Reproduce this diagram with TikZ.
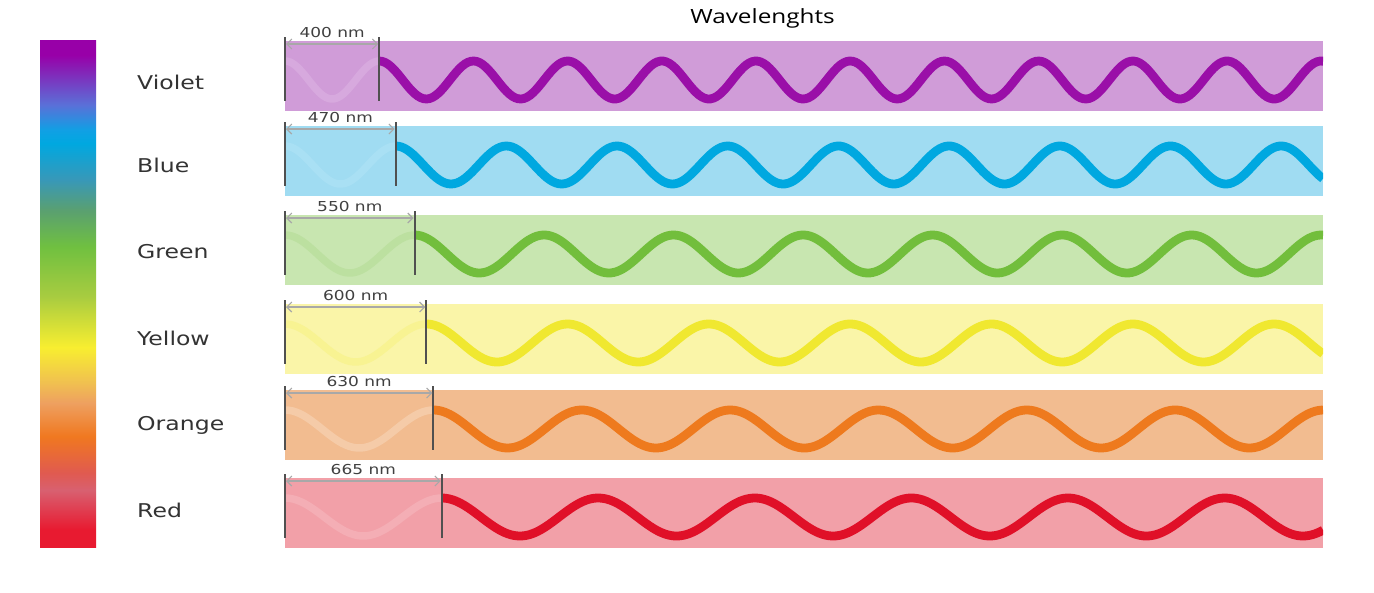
\documentclass[tikz,border=0pt]{standalone}
\usepackage{fontspec}
\setmainfont{DejaVu Sans}[FakeStretch=1.24]
\newfontfamily\titlefont{Open Sans}[FakeStretch=1.24]
\usetikzlibrary{arrows.meta}
% band / wave colours
\definecolor{vioB}{HTML}{D09CD8}\definecolor{vioW}{HTML}{9A0FA8}
\definecolor{bluB}{HTML}{A0DCF2}\definecolor{bluW}{HTML}{00A8E0}
\definecolor{greB}{HTML}{C8E6B0}\definecolor{greW}{HTML}{72BE3C}
\definecolor{yelB}{HTML}{FAF5A8}\definecolor{yelW}{HTML}{F0E830}
\definecolor{oraB}{HTML}{F2BC90}\definecolor{oraW}{HTML}{EE7A1E}
\definecolor{redB}{HTML}{F2A0A8}\definecolor{redW}{HTML}{E01028}
\colorlet{vioF}{vioW!6!vioB!80!white}
\colorlet{bluF}{bluW!8!bluB!80!white}
\colorlet{greF}{greW!14!greB}
\colorlet{yelF}{yelW!18!yelB}
\colorlet{oraF}{oraW!4!oraB!75!white}
\colorlet{redF}{redW!6!redB!78!white}
\definecolor{labgray}{HTML}{333333}
\definecolor{nmgray}{HTML}{404040}
\definecolor{markgray}{HTML}{505050}
\definecolor{dimgray}{HTML}{A8A8A8}
% spectrum colours
\definecolor{sA}{HTML}{9800A8}
\definecolor{sB}{HTML}{5A70D8}
\definecolor{sC}{HTML}{10A0E4}
\definecolor{sD}{HTML}{00A8E0}
\definecolor{sE}{HTML}{3898B8}
\definecolor{sF}{HTML}{5AA070}
\definecolor{sG}{HTML}{70C040}
\definecolor{sH}{HTML}{A8CC40}
\definecolor{sI}{HTML}{F8EE30}
\definecolor{sJ}{HTML}{F0C050}
\definecolor{sK}{HTML}{EEA060}
\definecolor{sL}{HTML}{F07820}
\definecolor{sM}{HTML}{E05A50}
\definecolor{sN}{HTML}{D86070}
\definecolor{sO}{HTML}{E81A30}
\pgfdeclareverticalshading{spectrum}{100bp}{%
color(0bp)=(sO); color(25bp)=(sO); color(26.7bp)=(sO); color(30.6bp)=(sN);
color(32.3bp)=(sM); color(35.9bp)=(sL); color(39.2bp)=(sK); color(41.2bp)=(sJ);
color(44.7bp)=(sI); color(49.7bp)=(sH); color(54.6bp)=(sG); color(58.2bp)=(sF);
color(61.2bp)=(sE); color(64.8bp)=(sD); color(66.1bp)=(sC); color(68.6bp)=(sB);
color(73.5bp)=(sA); color(75bp)=(sA); color(100bp)=(sA)}
\tikzset{
  colname/.style={font=\fontsize{19}{22}\selectfont, text=labgray, anchor=base west, inner sep=0pt},
  nmlabel/.style={font=\fontsize{13.7}{16}\selectfont, text=nmgray, anchor=base, inner sep=0pt},
  markline/.style={draw=markgray, line width=2pt},
  dimline/.style={draw=dimgray, line width=1.1pt, {Straight Barb[length=5pt,width=10pt]}-{Straight Barb[length=5pt,width=10pt]}},
}
\begin{document}
\begin{tikzpicture}[x=1pt,y=-1pt]
\useasboundingbox[fill=white] (0,0) rectangle (1374,592);
% title
\node[font=\titlefont\fontsize{19.6}{22}\selectfont, anchor=base, inner sep=0pt] (title) at (762.5,23) {Wavelenghts};
% spectrum bar
\shade[shading=spectrum] (40,40) rectangle (96,547);
% colour names
\node[colname] (lviolet) at (137,89) {Violet};
\node[colname] (lblue) at (137,172) {Blue};
\node[colname] (lgreen) at (137,258) {Green};
\node[colname] (lyellow) at (137,345) {Yellow};
\node[colname] (lorange) at (137,430) {Orange};
\node[colname] (lred) at (137,517) {Red};
% bands
\foreach \top/\nm/\col [count=\i] in {41/400/vio,126/470/blu,215/550/gre,304/600/yel,390/630/ora,478/665/red}{
  \pgfmathsetmacro\P{0.2355*\nm}
  \pgfmathsetmacro\M{285+\P}
  \pgfmathsetmacro\yc{\top+39}
  \fill[\col B] (285,\top) rectangle (1323,\top+70);
  \begin{scope}
    \clip (285,\top) rectangle (1323,\top+70);
    \draw[line width=7.5pt, \col F] plot[domain=285:\M, samples=40] (\x,{\yc-19*cos(((\x-285)/\P)*360)});
    \draw[line width=8.8pt, \col W] plot[domain=\M:1323, samples=320] (\x,{\yc-19*cos(((\x-285)/\P)*360)});
  \end{scope}
  \coordinate (ma\i) at (285,\top-4);
  \coordinate (mb\i) at (285,\top+60);
  \coordinate (mc\i) at (\M,\top-4);
  \coordinate (md\i) at (\M,\top+60);
  \draw[markline] (ma\i) -- (mb\i);
  \draw[markline] (mc\i) -- (md\i);
  \coordinate (da\i) at (286,\top+3);
  \coordinate (db\i) at (\M-1,\top+3);
  \draw[dimline] (da\i) -- (db\i);
  \node[nmlabel] (nm\i) at ({(285+\M)/2},\top-4) {\nm\ nm};
}
\end{tikzpicture}
\end{document}
